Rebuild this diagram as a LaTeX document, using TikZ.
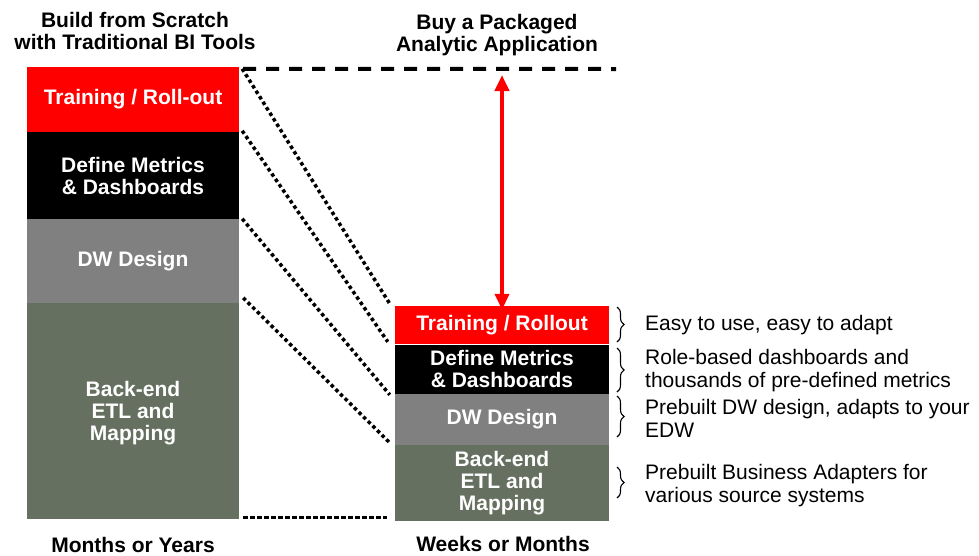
\documentclass[tikz,border=0pt]{standalone}
\usepackage{fontspec}
\setmainfont{Liberation Sans}
\usetikzlibrary{arrows.meta,decorations.pathreplacing}
\definecolor{boxred}{RGB}{255,0,0}
\definecolor{boxgray}{RGB}{128,128,128}
\definecolor{boxgreen}{RGB}{102,112,96}
\tikzset{
  stage/.style={rectangle, inner sep=0pt, align=center, text=white,
    font=\fontsize{21}{22}\selectfont\bfseries},
  title/.style={inner sep=0pt, align=center, text=black,
    font=\fontsize{21}{22}\selectfont\bfseries},
  desc/.style={inner sep=0pt, anchor=west, align=left, text=black,
    font=\fontsize{21}{23}\selectfont},
  dotline/.style={line width=3.5pt, dash pattern=on 3.5pt off 3pt, black},
  topdash/.style={line width=4pt, dash pattern=on 13pt off 10pt, black},
  botdot/.style={line width=3pt, dash pattern=on 5pt off 2pt, black},
  span/.style={line width=4pt, boxred, {Triangle[width=14pt,length=16pt]}-{Triangle[width=14pt,length=16pt]}},
  bracefig/.style={line width=1.1pt, decorate, decoration={brace, amplitude=7pt}}
}
\begin{document}
\begin{tikzpicture}[x=1pt,y=-1pt]
\useasboundingbox (0,0) rectangle (979,555);
% left column
\node[stage, fill=boxred,   minimum width=212pt, minimum height=65pt]  (L1) at (133,99.5) {Training / Roll-out};
\node[stage, fill=black,    minimum width=212pt, minimum height=87pt]  (L2) at (133,175.5) {Define Metrics\\\& Dashboards};
\node[stage, fill=boxgray,  minimum width=212pt, minimum height=84pt]  (L3) at (133,261) {DW Design};
\node[stage, fill=boxgreen, minimum width=212pt, minimum height=216pt] (L4) at (133,411) {};
\node[stage] (L4t) at (133,413) {Back-end\\ETL and\\Mapping};
% right column
\node[stage, fill=boxred,   minimum width=214pt, minimum height=38pt] (R1) at (502,325) {Training / Rollout};
\node[stage, fill=black,    minimum width=214pt, minimum height=50pt] (R2) at (502,369) {Define Metrics\\\& Dashboards};
\node[stage, fill=boxgray,  minimum width=214pt, minimum height=51pt] (R3) at (502,419.5) {DW Design};
\node[stage, fill=boxgreen, minimum width=214pt, minimum height=76pt] (R4) at (502,483) {Back-end\\ETL and\\Mapping};
\draw[white, line width=1pt] (R1.south west) -- (R1.south east);
% titles
\node[title] (T1) at (135,31) {Build from Scratch\\with Traditional BI Tools};
\node[title] (T2) at (497,35) {Buy a Packaged\\Analytic Application};
\node[title] (B1) at (133,545) {Months or Years};
\node[title] (B2) at (503,544) {Weeks or Months};
% connectors
\coordinate (dashend) at (616,69);
\draw[topdash] ([shift={(4,2)}]L1.north east) -- (dashend);
\draw[dotline] ([shift={(3,2)}]L1.north east) -- ([shift={(-5,-2)}]R1.north west);
\draw[dotline] ([shift={(3,-1)}]L2.north east) -- ([shift={(-7,-2)}]R2.north west);
\draw[dotline] ([shift={(3,0)}]L3.north east) -- ([shift={(-5,1)}]R3.north west);
\draw[dotline] ([shift={(4,-5)}]L4.north east) -- ([shift={(-5,-2)}]R4.north west);
\draw[botdot] ([shift={(4,-2)}]L4.south east) -- ([shift={(-8,-4)}]R4.south west);
\coordinate (arrtop) at (502,75);
\draw[span] (arrtop) -- ([yshift=-4pt]R1.north);
% descriptions
\node[desc] (D1) at (645,325) {Easy to use, easy to adapt};
\node[desc] (D2) at (645,370.5) {Role-based dashboards and\\thousands of pre-defined metrics};
\node[desc] (D3) at (645,418) {Prebuilt DW design, adapts to your\\EDW};
\node[desc] (D4) at (645,486) {Prebuilt Business Adapters for\\various source systems};
\draw[bracefig] (617,307) -- (617,342);
\draw[bracefig] (617,348) -- (617,392);
\draw[bracefig] (617,396) -- (617,437);
\draw[bracefig] (617,467) -- (617,498);
\end{tikzpicture}
\end{document}
